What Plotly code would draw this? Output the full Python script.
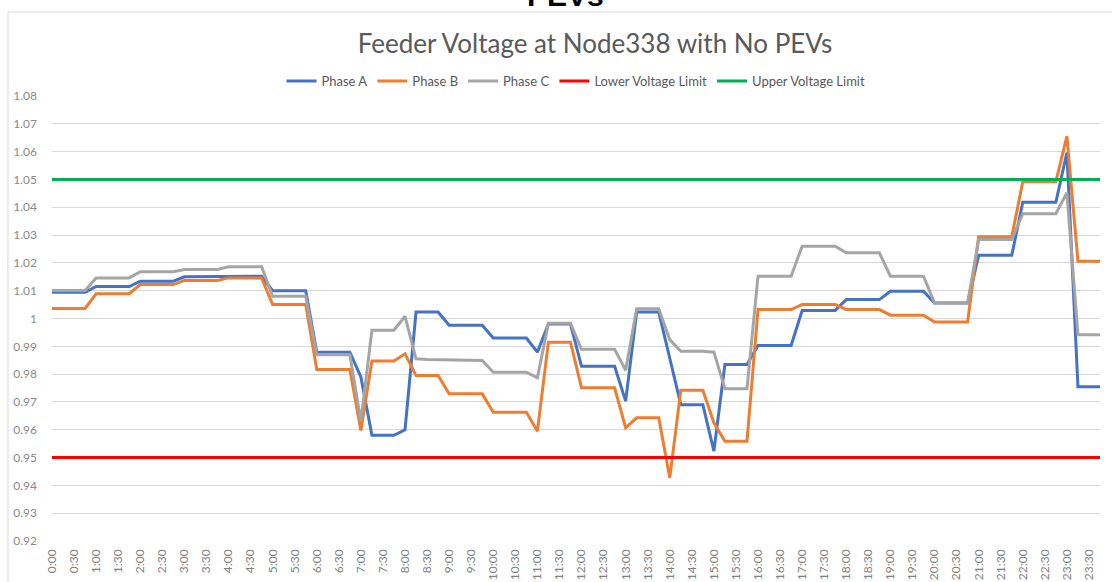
import plotly.graph_objects as go

# ---- data (15-minute samples, 0:00 .. 23:45) ----
times = [f"{h}:{m:02d}" for h in range(24) for m in (0, 15, 30, 45)]

phase_a = [
    1.0094, 1.0094, 1.0094, 1.0094,  # 0h
    1.0115, 1.0115, 1.0115, 1.0115,  # 1h
    1.0134, 1.0134, 1.0134, 1.0134,  # 2h
    1.0150, 1.0150, 1.0150, 1.0150,  # 3h
    1.0152, 1.0152, 1.0152, 1.0152,  # 4h
    1.0100, 1.0100, 1.0100, 1.0100,  # 5h
    0.9879, 0.9879, 0.9879, 0.9879,  # 6h
    0.9790, 0.9580, 0.9580, 0.9580,  # 7h
    0.9600, 1.0023, 1.0023, 1.0023,  # 8h
    0.9976, 0.9976, 0.9976, 0.9976,  # 9h
    0.9930, 0.9930, 0.9930, 0.9930,  # 10h
    0.9879, 0.9980, 0.9980, 0.9980,  # 11h
    0.9828, 0.9828, 0.9828, 0.9828,  # 12h
    0.9703, 1.0023, 1.0023, 1.0023,  # 13h
    0.9857, 0.9690, 0.9690, 0.9690,  # 14h
    0.9523, 0.9835, 0.9835, 0.9835,  # 15h
    0.9903, 0.9903, 0.9903, 0.9903,  # 16h
    1.0029, 1.0029, 1.0029, 1.0029,  # 17h
    1.0068, 1.0068, 1.0068, 1.0068,  # 18h
    1.0098, 1.0098, 1.0098, 1.0098,  # 19h
    1.0056, 1.0056, 1.0056, 1.0056,  # 20h
    1.0227, 1.0227, 1.0227, 1.0227,  # 21h
    1.0418, 1.0418, 1.0418, 1.0418,  # 22h
    1.0597, 0.9755, 0.9755, 0.9755,  # 23h
]

phase_b = [
    1.0036, 1.0036, 1.0036, 1.0036,  # 0h
    1.0089, 1.0089, 1.0089, 1.0089,  # 1h
    1.0122, 1.0122, 1.0122, 1.0122,  # 2h
    1.0137, 1.0137, 1.0137, 1.0137,  # 3h
    1.0146, 1.0146, 1.0146, 1.0146,  # 4h
    1.0050, 1.0050, 1.0050, 1.0050,  # 5h
    0.9817, 0.9817, 0.9817, 0.9817,  # 6h
    0.9597, 0.9847, 0.9847, 0.9847,  # 7h
    0.9873, 0.9795, 0.9795, 0.9795,  # 8h
    0.9729, 0.9729, 0.9729, 0.9729,  # 9h
    0.9663, 0.9663, 0.9663, 0.9663,  # 10h
    0.9595, 0.9915, 0.9915, 0.9915,  # 11h
    0.9751, 0.9751, 0.9751, 0.9751,  # 12h
    0.9607, 0.9643, 0.9643, 0.9643,  # 13h
    0.9427, 0.9742, 0.9742, 0.9742,  # 14h
    0.9625, 0.9559, 0.9559, 0.9559,  # 15h
    1.0032, 1.0032, 1.0032, 1.0032,  # 16h
    1.0050, 1.0050, 1.0050, 1.0050,  # 17h
    1.0032, 1.0032, 1.0032, 1.0032,  # 18h
    1.0012, 1.0012, 1.0012, 1.0012,  # 19h
    0.9987, 0.9987, 0.9987, 0.9987,  # 20h
    1.0294, 1.0294, 1.0294, 1.0294,  # 21h
    1.0492, 1.0492, 1.0492, 1.0492,  # 22h
    1.0656, 1.0206, 1.0206, 1.0206,  # 23h
]

phase_c = [
    1.0101, 1.0101, 1.0101, 1.0101,  # 0h
    1.0146, 1.0146, 1.0146, 1.0146,  # 1h
    1.0168, 1.0168, 1.0168, 1.0168,  # 2h
    1.0176, 1.0176, 1.0176, 1.0176,  # 3h
    1.0186, 1.0186, 1.0186, 1.0186,  # 4h
    1.0080, 1.0080, 1.0080, 1.0080,  # 5h
    0.9870, 0.9870, 0.9870, 0.9870,  # 6h
    0.9630, 0.9958, 0.9958, 0.9958,  # 7h
    1.0008, 0.9855, 0.9853, 0.9852,  # 8h
    0.9850, 0.9850, 0.9849, 0.9849,  # 9h
    0.9807, 0.9807, 0.9807, 0.9807,  # 10h
    0.9787, 0.9983, 0.9983, 0.9983,  # 11h
    0.9889, 0.9889, 0.9889, 0.9889,  # 12h
    0.9814, 1.0035, 1.0035, 1.0035,  # 13h
    0.9924, 0.9882, 0.9882, 0.9882,  # 14h
    0.9879, 0.9747, 0.9747, 0.9747,  # 15h
    1.0152, 1.0152, 1.0152, 1.0152,  # 16h
    1.0260, 1.0260, 1.0260, 1.0260,  # 17h
    1.0236, 1.0236, 1.0236, 1.0236,  # 18h
    1.0152, 1.0152, 1.0152, 1.0152,  # 19h
    1.0056, 1.0056, 1.0056, 1.0056,  # 20h
    1.0284, 1.0284, 1.0284, 1.0284,  # 21h
    1.0377, 1.0377, 1.0377, 1.0377,  # 22h
    1.0452, 0.9942, 0.9942, 0.9942,  # 23h
]

lower_limit = [0.95] * len(times)
upper_limit = [1.05] * len(times)

x_tick_labels = [f"{h}:{m:02d}" for h in range(24) for m in (0, 30)]
y_tick_values = [0.92, 0.93, 0.94, 0.95, 0.96, 0.97, 0.98, 0.99, 1.00,
                 1.01, 1.02, 1.03, 1.04, 1.05, 1.06, 1.07, 1.08]
y_tick_labels = ["0.92", "0.93", "0.94", "0.95", "0.96", "0.97", "0.98", "0.99", "1",
                 "1.01", "1.02", "1.03", "1.04", "1.05", "1.06", "1.07", "1.08"]

# ---- build ----
def to_hours(s):
    h, m = s.split(":")
    return int(h) + int(m) / 60.0

xh = [to_hours(t) for t in times]
x_tick_vals = [to_hours(t) for t in x_tick_labels]

W, H = 1112, 582
L, R, T, B = 52, 12, 96, 41
pw, ph = W - L - R, H - T - B

def px(x):
    return (x - L) / pw

def py(y):
    return (H - B - y) / ph

series = [
    ("Phase A", phase_a, "#4472C4"),
    ("Phase B", phase_b, "#ED7D31"),
    ("Phase C", phase_c, "#A5A5A5"),
    ("Lower Voltage Limit", lower_limit, "#FF0000"),
    ("Upper Voltage Limit", upper_limit, "#00B050"),
]

fig = go.Figure()
for name, vals, col in series:
    fig.add_trace(go.Scatter(x=xh, y=vals, mode="lines", name=name,
                             line=dict(color=col, width=3)))

fig.update_layout(
    width=W, height=H,
    margin=dict(l=L, r=R, t=T, b=B, pad=0, autoexpand=False),
    paper_bgcolor="white", plot_bgcolor="white",
    font=dict(family="Lato, Open Sans, sans-serif", color="#595959"),
    title=dict(text="Feeder Voltage at Node338 with No PEVs",
               x=px(595), xref="paper", xanchor="center",
               y=1 - 44 / H, yanchor="middle",
               font=dict(size=26, color="#595959", family="Lato, sans-serif")),
    legend=dict(orientation="h", x=0.5, xanchor="center",
                y=py(81), yanchor="middle",
                font=dict(size=13, color="#595959"),
                itemwidth=30, bgcolor="rgba(0,0,0,0)"),
    showlegend=True,
    xaxis=dict(range=[0, 23.75], tickmode="array", tickvals=x_tick_vals,
               ticktext=x_tick_labels, tickangle=-90, showgrid=False,
               zeroline=False, showline=False, ticks="", automargin=False,
               tickfont=dict(size=12, color="#7f7f7f"), ticklabelstandoff=5),
    yaxis=dict(range=[0.92, 1.08], tickmode="array", tickvals=y_tick_values,
               ticktext=y_tick_labels, showgrid=True, gridcolor="#D9D9D9",
               gridwidth=1, zeroline=False, showline=False, ticks="",
               automargin=False,
               tickfont=dict(size=12, color="#8a8a8a"), ticklabelstandoff=14),
)

# chart frame (Excel chart-area border)
fig.add_shape(type="rect", xref="paper", yref="paper",
              x0=px(8), x1=px(1200), y0=py(620), y1=py(12),
              line=dict(color="#D9D9D9", width=1), fillcolor="rgba(0,0,0,0)",
              layer="below")

# heading text of the surrounding document, cut off at the top
fig.add_annotation(text="<b>PEVs</b>", xref="paper", yref="paper",
                   x=px(565), y=py(-5), xanchor="center", yanchor="middle",
                   showarrow=False,
                   font=dict(size=30, color="black", family="Liberation Sans, Arial"))

fig.write_html("out.html", config={"displayModeBar": False},
               post_script="document.body.style.margin='0';document.body.style.overflow='hidden';")
